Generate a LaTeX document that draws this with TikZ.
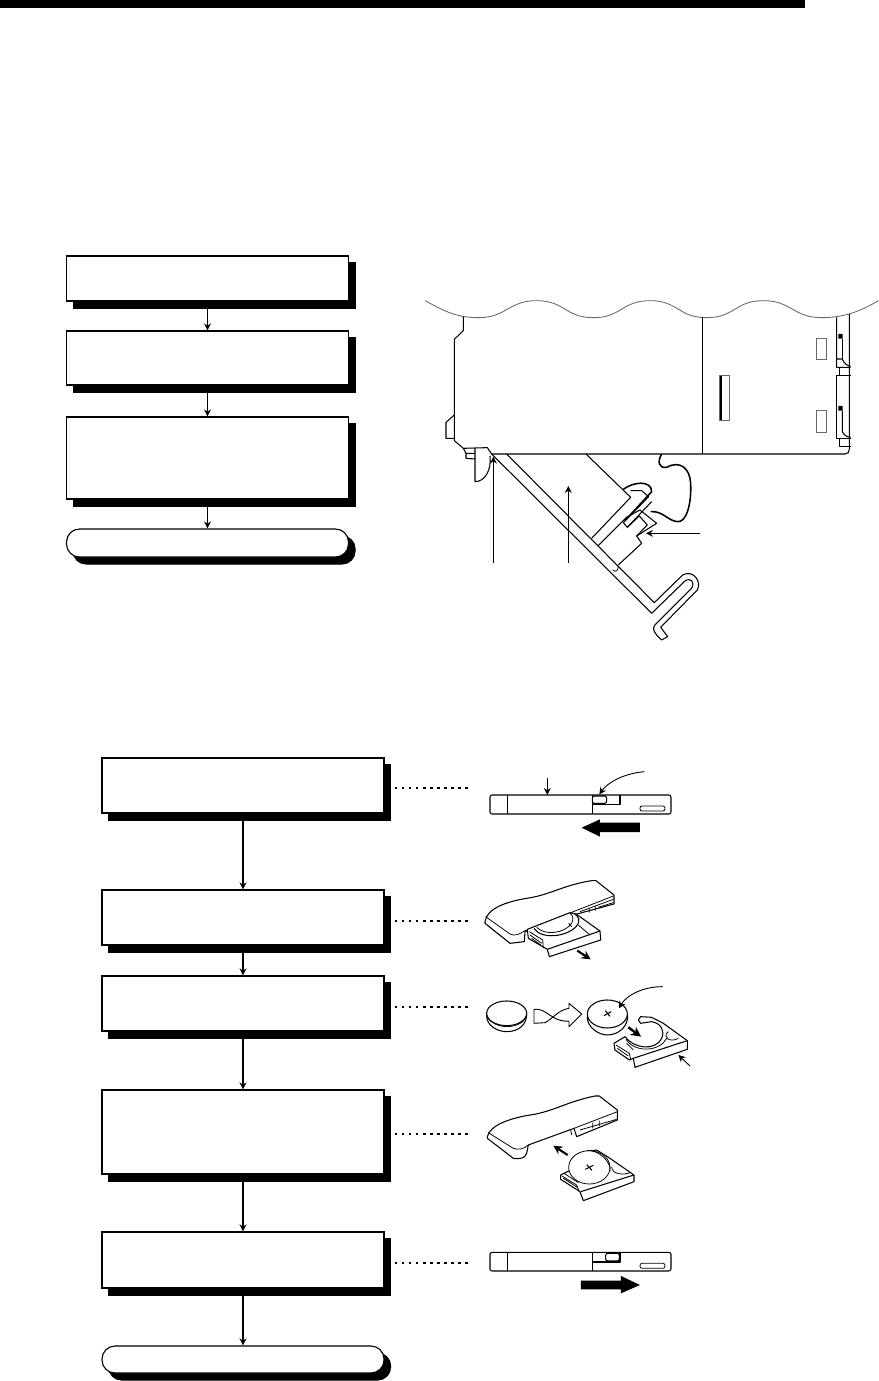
\documentclass[tikz,border=0pt]{standalone}
\usetikzlibrary{arrows.meta, shadows}

\tikzset{
  flowbox/.style={draw, fill=white, line width=1.6pt, inner sep=0pt, minimum width=14.1cm,
    copy shadow={shadow xshift=0.33cm, shadow yshift=-0.35cm, draw=black, fill=black}},
  flowend/.style={flowbox, rounded corners=0.65cm},
  flowline/.style={->, line width=1.5pt},
  leaderdots/.style={line width=3.2pt, dash pattern=on 3.4pt off 6.6pt},
  part/.style={line width=1.5pt, line join=round},
  fine/.style={line width=1.1pt, line join=round},
  pale/.style={line width=1.2pt, draw=black!60},
  pointer/.style={->, line width=1.3pt},
  hollowtip/.style={draw, fill=white, line width=1.3pt, line join=round}
}

\begin{document}
\begin{tikzpicture}[>={Stealth[length=3.5mm, width=3.5mm]}, x=0.05cm, y=-0.05cm]
\useasboundingbox (0,0) rectangle (879,1381);
\fill (0,0) rectangle (805,8);
% upper flow
\node[flowbox, minimum height=2.25cm] (dismount) at (207.5,278.5) {};
\node[flowbox, minimum height=2.7cm] (unplug) at (207.5,358) {};
\node[flowbox, minimum height=4.1cm] (openplate) at (207.5,458) {};
\node[flowend, minimum height=1.4cm] (upperend) at (207.5,543) {};
\draw[flowline] (dismount.south) -- (unplug.north);
\draw[flowline] (unplug.south) -- (openplate.north);
\draw[flowline] (openplate.south) -- (upperend.north);
% lower flow
\node[flowbox, minimum height=2.75cm] (slideout) at (243,785.5) {};
\node[flowbox, minimum height=2.75cm] (drawtray) at (243,917.5) {};
\node[flowbox, minimum height=2.75cm] (swapcell) at (243,1003.5) {};
\node[flowbox, minimum height=4.2cm] (refit) at (243,1132) {};
\node[flowbox, minimum height=2.8cm] (slideback) at (243,1260) {};
\node[flowend, minimum height=1.35cm] (lowerend) at (243,1359.5) {};
\draw[flowline] (slideout.south) -- (drawtray.north);
\draw[flowline] (drawtray.south) -- (swapcell.north);
\draw[flowline] (swapcell.south) -- (refit.north);
\draw[flowline] (refit.south) -- (slideback.north);
\draw[flowline] (slideback.south) -- (lowerend.north);
% dotted leaders
\coordinate (dotsa) at (395,788); \coordinate (picta) at (470,788);
\coordinate (dotsb) at (395,921); \coordinate (pictb) at (470,921);
\coordinate (dotsc) at (395,1007); \coordinate (pictc) at (470,1007);
\coordinate (dotsd) at (395,1134); \coordinate (pictd) at (470,1134);
\coordinate (dotse) at (395,1263); \coordinate (picte) at (470,1263);
\draw[leaderdots] (dotsa) -- (picta);
\draw[leaderdots] (dotsb) -- (pictb);
\draw[leaderdots] (dotsc) -- (pictc);
\draw[leaderdots] (dotsd) -- (pictd);
\draw[leaderdots] (dotse) -- (picte);

% unit seen from the side
\begin{scope}[shift={(410,280)}, scale=0.3333]
\draw[pale] (45,62) .. controls (90,85) and (130,113) .. (205,113)
  .. controls (290,113) and (295,62) .. (380,62) .. controls (465,62) and (465,113) .. (550,113)
  .. controls (635,113) and (635,62) .. (720,62) .. controls (805,62) and (805,113) .. (890,113)
  .. controls (975,113) and (975,62) .. (1060,62) .. controls (1145,62) and (1150,113) .. (1235,113)
  .. controls (1300,113) and (1350,95) .. (1405,62);
\draw[part] (160,110) -- (160,152) -- (133,178) -- (133,482) -- (160,505) -- (232,503) -- (245,522)
  -- (1305,522) .. controls (1314,522) and (1318,516) .. (1318,508) -- (1318,102);
\draw[part] (133,405) -- (108,427) -- (108,475) -- (133,475);
\draw[part] (877,112) -- (877,522);
\draw[part] (160,505) -- (168,520) -- (168,535) -- (195,537) (168,520) -- (195,520);
\draw[part] (195,505) -- (195,605) .. controls (225,605) and (245,570) .. (240,528);
\draw[pale] (1219,176) rectangle (1248,238) (1219,392) rectangle (1248,457);
\draw[pale] (928,287) rectangle (958,421);
\draw[part] (933,287) -- (933,421);
\draw[part] (1280,112) -- (1280,262) -- (1322,262) (1280,237) -- (1297,237) .. controls (1302,250) and (1312,258) .. (1322,258);
\draw[part] (1297,176) -- (1297,237) (1290,262) -- (1290,286);
\fill (1285,162) rectangle (1298,176) (1285,378) rectangle (1298,392);
\draw[part] (1280,286) -- (1322,286) (1280,286) -- (1280,475) -- (1322,475);
\draw[part] (1297,392) -- (1297,455) .. controls (1302,465) and (1312,472) .. (1322,472);
\draw[part] (1290,475) -- (1290,500) -- (1322,500);
% opened plate with its hook
\draw[part] (245,522) -- (725,1000) -- (825,903) .. controls (842,892) and (856,905) .. (845,925)
  -- (735,1035) .. controls (728,1045) and (730,1052) .. (740,1065) -- (755,1080) -- (773,1070) -- (752,1042)
  -- (862,930) .. controls (876,905) and (850,868) .. (818,885) -- (733,968) -- (290,522);
\draw[part] (528,522) -- (662,652) -- (545,775);
% cable and connector
\draw[line width=2.2pt] (755,522) .. controls (742,545) and (745,565) .. (770,562)
  .. controls (810,540) and (840,565) .. (842,610) .. controls (845,670) and (830,725) .. (805,725)
  .. controls (775,725) and (760,692) .. (722,695);
\draw[line width=2.2pt] (640,628) .. controls (670,605) and (725,600) .. (725,635) -- (645,722);
\draw[part] (662,632) -- (695,632) -- (716,650) -- (640,728) -- (652,742) -- (725,665);
\draw[part] (565,797) -- (650,712) -- (690,690) -- (740,730) -- (680,768) -- (695,790) -- (625,855);
\draw[part] (652,742) -- (688,708) -- (712,735) -- (680,768);
\draw[fine] (608,870) .. controls (620,880) and (625,868) .. (625,858);
\coordinate (tipend) at (250,848); \coordinate (tiptop) at (250,530);
\coordinate (plateend) at (475,848); \coordinate (platetop) at (475,618);
\coordinate (plugend) at (870,760); \coordinate (plugtop) at (708,760);
\draw[pointer] (tipend) -- (tiptop);
\draw[pointer] (plateend) -- (platetop);
\draw[pointer] (plugend) -- (plugtop);
\end{scope}

% holder steps
\begin{scope}[shift={(470,760)}, scale=0.3333]
% closed holder
\draw[part, rounded corners=3pt] (60,105) rectangle (603,162);
\draw[part] (112,105) -- (112,162) (367,105) -- (367,162) (367,133) -- (450,133) -- (450,105);
\draw[part, rounded corners=3pt] (367,108) rectangle (410,130);
\draw[fine, rounded corners=3pt] (510,138) rectangle (585,153);
\coordinate (holdertop) at (232,55); \coordinate (holderface) at (232,105);
\coordinate (latchfrom) at (523,35); \coordinate (latchto) at (388,103);
\draw[pointer] (holdertop) -- (holderface);
\draw[pointer] (latchfrom) .. controls (465,40) and (415,65) .. (latchto);
\fill (510,188) -- (390,188) -- (390,178) -- (335,203) -- (390,230) -- (390,216) -- (510,216) -- cycle;
% tray half drawn
\draw[part, fill=white] (45,485) .. controls (50,445) and (110,425) .. (170,415)
  .. controls (240,405) and (280,375) .. (365,362) -- (378,362) -- (432,405) -- (432,432) -- (310,465)
  -- (165,515) -- (163,545) -- (120,550) -- (45,490) -- cycle;
\draw[fine] (47,470) -- (120,522) .. controls (135,530) and (150,522) .. (165,512) -- (310,455) -- (430,408);
\draw[fine] (330,455) -- (430,418) (358,445) -- (358,458) (376,438) -- (376,452) (385,442) -- (430,428);
\draw[part, fill=white] (172,508) -- (300,458) -- (318,462) -- (390,513) -- (392,540) -- (238,590)
  -- (232,568) -- (218,560) -- (175,535) -- cycle;
\draw[part] (232,568) -- (390,513);
\draw[part] (192,505) .. controls (215,540) and (290,530) .. (318,500) .. controls (335,480) and (325,470) .. (312,460);
\draw[fine] (200,502) .. controls (225,528) and (285,520) .. (305,490) .. controls (312,475) and (308,465) .. (300,460);
\draw[fine] (178,515) -- (218,540) -- (220,565) (180,525) -- (215,550) (185,535) -- (212,555) (296,490) -- (305,500) (325,495) -- (360,525);
\draw[line width=3pt, -{Stealth[length=4.5mm, width=4.5mm]}] (322,572) -- (362,598);
% new cell
\draw[part] (50,765) .. controls (48,795) and (80,815) .. (110,815) .. controls (145,815) and (172,795) .. (170,758);
\draw[part, fill=white] (110,760) ellipse [x radius=60, y radius=37];
\draw[fine] (52,772) .. controls (65,792) and (90,800) .. (110,800) .. controls (135,800) and (160,790) .. (168,772);
\draw[hollowtip] (192,748) .. controls (220,745) and (235,765) .. (255,775) .. controls (270,782) and (285,785) .. (297,783)
  -- (297,800) -- (335,762) -- (297,730) -- (297,745) .. controls (265,750) and (250,775) .. (225,788) -- (192,790) -- cycle;
\draw[part] (352,770) .. controls (350,800) and (385,825) .. (412,825) .. controls (445,825) and (475,800) .. (473,765);
\draw[part, fill=white] (412,762) ellipse [x radius=60, y radius=42];
\draw[part] (402,767) -- (424,755) (406,752) -- (420,769);
\coordinate (cellfrom) at (578,680); \coordinate (cellto) at (447,745);
\draw[pointer] (cellfrom) .. controls (520,680) and (470,705) .. (cellto);
\draw[line width=3.5pt, -{Stealth[length=5mm, width=5mm]}] (475,802) -- (513,830);
% open tray
\draw[part] (432,850) -- (465,830) .. controls (490,865) and (555,875) .. (575,835) .. controls (585,815) and (575,790) .. (545,785)
  -- (512,790) -- (505,780) -- (512,770) -- (545,772) -- (580,790) -- (652,842) -- (652,868) -- (495,922) -- (490,895) -- (478,900) -- (435,870) -- cycle;
\draw[part] (490,895) -- (652,842);
\draw[fine] (468,838) .. controls (495,880) and (570,875) .. (590,835) (438,855) -- (478,880) -- (482,898) (442,865) -- (475,888) (470,850) -- (490,870) (595,815) .. controls (575,830) and (600,850) .. (625,835);
\coordinate (trayfrom) at (660,918); \coordinate (trayto) at (625,885);
\draw[pointer] (trayfrom) -- (trayto);
\end{scope}

\begin{scope}[shift={(470,1060)}, scale=0.3333]
% tray going back
\draw[part, fill=white] (52,230) .. controls (60,195) and (120,175) .. (180,165)
  .. controls (250,155) and (290,125) .. (375,108) -- (388,108) -- (442,150) -- (442,180) -- (320,230) -- (312,205)
  -- (175,255) -- (170,280) .. controls (165,295) and (150,298) .. (130,295) -- (52,235) -- cycle;
\draw[fine] (55,218) -- (130,265) .. controls (145,270) and (160,268) .. (175,255) (312,205) -- (442,155) (330,210) -- (440,178) (368,188) -- (368,205) (388,182) -- (388,198) (302,210) -- (305,225);
\draw[line width=3pt, -{Stealth[length=4.5mm, width=4.5mm]}] (293,285) -- (250,257);
\draw[part, fill=white] (272,345) -- (298,332) -- (345,275) -- (380,270) -- (420,295) -- (492,345) -- (492,365) -- (340,422)
  -- (330,395) -- (272,358) -- cycle;
\draw[part] (332,395) -- (492,345);
\draw[fine, fill=white] (358,322) ellipse [x radius=62, y radius=50];
\draw[fine] (350,272) .. controls (385,268) and (425,305) .. (420,335);
\draw[part] (346,328) -- (370,316) (350,314) -- (366,331);
\draw[fine] (276,348) -- (320,375) -- (328,395) (282,340) -- (325,368) (280,355) -- (322,382) (425,320) .. controls (425,345) and (465,345) .. (480,338);
% closed again
\draw[part, rounded corners=3pt] (60,577) rectangle (603,633);
\draw[part] (112,577) -- (112,633) (367,577) -- (367,633) (367,606) -- (450,606) -- (450,577);
\draw[part, rounded corners=3pt] (407,580) rectangle (448,603);
\draw[fine, rounded corners=3pt] (510,610) rectangle (585,625);
\fill (333,662) -- (453,662) -- (453,648) -- (510,675) -- (453,700) -- (453,688) -- (333,688) -- cycle;
\end{scope}
\end{tikzpicture}
\end{document}
